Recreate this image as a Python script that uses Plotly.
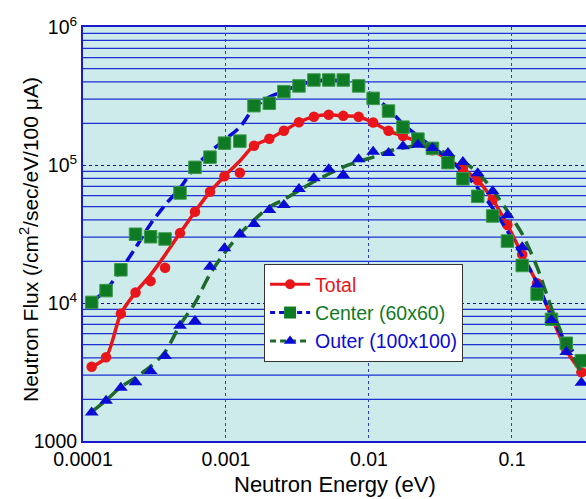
import plotly.graph_objects as go

# Neutron energy (eV) sample points
energy = [1.15e-4, 1.45e-4, 1.84e-4, 2.33e-4, 2.97e-4, 3.75e-4, 4.77e-4, 6.07e-4, 7.73e-4, 9.76e-4,
          1.25e-3, 1.57e-3, 2.01e-3, 2.54e-3, 3.24e-3, 4.12e-3, 5.23e-3, 6.61e-3, 8.47e-3, 1.07e-2,
          1.37e-2, 1.73e-2, 2.20e-2, 2.78e-2, 3.57e-2, 4.54e-2, 5.76e-2, 7.33e-2, 9.30e-2, 0.118,
          0.150, 0.189, 0.240, 0.306]

# measured points
total_pts = [3450, 4040, 8370, 11900, 14400, 18000, 32100, 45900, 64000, 82800,
             87900, 138000, 155000, 177000, 204000, 224000, 231000, 227000, 224000, 203000,
             177000, 162000, 147000, 128000, 106000, 93500, 77400, 56100, 36700, 22500,
             13900, 7960, 4560, 3150]
center_pts = [10100, 12300, 17400, 31500, 30200, 29100, 62700, 96200, 114000, 144000,
              149000, 269000, 280000, 340000, 374000, 413000, 413000, 413000, 374000, 304000,
              246000, 188000, 154000, 132000, 104000, 79400, 59300, 42700, 28100, 18700,
              11600, 7620, 5110, 3820]
outer_pts = [1610, 1960, 2430, 2660, 3210, 4130, 6850, 7410, 18300, 24900,
             31600, 37400, 47200, 51300, 67000, 80100, 93200, 84700, 110000, 125000,
             122000, 137000, 140000, 133000, 122000, 105000, 87200, 64500, 43200, 25300,
             13600, 7530, 4420, 2640]

# smooth fitted curves
total_fit = [3450, 4040, 8370, 11900, 16000, 22300, 32100, 45900, 64000, 82800,
             107000, 138000, 155000, 177000, 204000, 224000, 231000, 227000, 224000, 203000,
             177000, 162000, 147000, 128000, 110000, 93500, 77400, 56100, 36700, 22500,
             13900, 7960, 4560, 3150]
center_fit = [10200, 12400, 17400, 25100, 37400, 51300, 68100, 96700, 124000, 152000,
              188000, 259000, 311000, 344000, 380000, 406000, 413000, 406000, 374000, 316000,
              255000, 198000, 162000, 135000, 112000, 89000, 68100, 48800, 33200, 21900,
              14000, 8050, 5130, 3800]
outer_fit = [1630, 1970, 2460, 2880, 3470, 4420, 6930, 10000, 16200, 23000,
             31600, 39900, 49600, 56200, 65300, 75900, 86100, 96700, 106000, 114000,
             126000, 133000, 138000, 133000, 120000, 106000, 88300, 65900, 46400, 31600,
             18200, 9200, 5050, 3160]

series_names = ["Total", "Center (60x60)", "Outer (100x100)"]

RED = "#e8161b"
BLUE = "#0b0bd6"
GREEN = "#0f7a24"
DGREEN = "#1c6a2c"
FONT = "Liberation Sans, Arial, sans-serif"

fig = go.Figure()

# Total
fig.add_trace(go.Scatter(x=energy, y=total_fit, mode="lines", showlegend=False,
                         line=dict(color=RED, width=3.5, shape="spline", smoothing=0.8)))
fig.add_trace(go.Scatter(x=energy, y=total_pts, mode="markers", showlegend=False,
                         marker=dict(symbol="circle", size=10.5, color=RED)))
# Center
fig.add_trace(go.Scatter(x=energy, y=center_fit, mode="lines", showlegend=False,
                         line=dict(color=BLUE, width=3.5, dash="12px,6px", shape="spline", smoothing=0.8)))
fig.add_trace(go.Scatter(x=energy, y=center_pts, mode="markers", showlegend=False,
                         marker=dict(symbol="square", size=12.5, color=GREEN,
                                     line=dict(color="#3c9a4c", width=1))))
# Outer
fig.add_trace(go.Scatter(x=energy, y=outer_fit, mode="lines", showlegend=False,
                         line=dict(color=DGREEN, width=3.5, dash="14px,7px", shape="spline", smoothing=0.8)))
fig.add_trace(go.Scatter(x=energy, y=outer_pts, mode="markers", showlegend=False,
                         marker=dict(symbol="triangle-up", size=12, color=BLUE)))

# legend entries
fig.add_trace(go.Scatter(x=[None], y=[None], mode="lines+markers",
                         name=f"<span style='color:{RED}'>{series_names[0]}</span>",
                         line=dict(color=RED, width=3), marker=dict(symbol="circle", size=10, color=RED)))
fig.add_trace(go.Scatter(x=[None], y=[None], mode="lines+markers",
                         name=f"<span style='color:{GREEN}'>{series_names[1]}</span>",
                         line=dict(color=BLUE, width=3, dash="5px,4px"),
                         marker=dict(symbol="square", size=12, color=GREEN)))
fig.add_trace(go.Scatter(x=[None], y=[None], mode="lines+markers",
                         name=f"<span style='color:{BLUE}'>{series_names[2]}</span>",
                         line=dict(color=DGREEN, width=3, dash="6px,4px"),
                         marker=dict(symbol="triangle-up", size=11, color=BLUE)))

# minor horizontal grid lines (2..9 per decade)
shapes = []
for dec in [1e3, 1e4, 1e5]:
    for k in range(2, 10):
        shapes.append(dict(type="line", xref="paper", x0=0, x1=1, yref="y", y0=k * dec, y1=k * dec,
                           line=dict(color="#1c30d4", width=1.3), layer="below"))

fig.update_layout(
    width=586, height=499,
    margin=dict(l=83, r=0, t=27, b=58),
    paper_bgcolor="white",
    plot_bgcolor="#cdebea",
    font=dict(family=FONT, size=18, color="black"),
    shapes=shapes,
    showlegend=True,
    legend=dict(x=0.36, y=0.4275, xanchor="left", yanchor="top",
                bgcolor="white", bordercolor="#333333", borderwidth=1,
                font=dict(family=FONT, size=19.5), tracegroupgap=0, itemwidth=40),
    xaxis=dict(type="log", range=[-4, -0.482],
               tickvals=[1e-4, 1e-3, 1e-2, 1e-1], ticktext=["0.0001", "0.001", "0.01", "0.1"],
               showgrid=True, gridcolor="#2a3ad8", griddash="dot", gridwidth=1,
               showline=True, linecolor="#1a1acc", linewidth=2, mirror=True,
               ticks="", tickfont=dict(size=19.5), zeroline=False),
    yaxis=dict(type="log", range=[3, 6],
               tickvals=[1e3, 1e4, 1e5, 1e6],
               ticktext=["1000", "10<sup>4</sup>", "10<sup>5</sup>", "10<sup>6</sup>"],
               showgrid=True, gridcolor="#10109a", griddash="dot", gridwidth=1,
               showline=True, linecolor="#1a1acc", linewidth=2,
               ticks="", tickfont=dict(size=19.5), zeroline=False),
    annotations=[
        dict(text="Neutron Energy (eV)", xref="paper", yref="paper", x=0.5, y=-0.106,
             xanchor="center", yanchor="middle", showarrow=False, font=dict(size=22)),
        dict(text="Neutron Flux (/cm<sup>2</sup>/sec/eV/100 \u03bcA)", xref="paper", yref="paper",
             x=-0.107, y=0.486, xanchor="center", yanchor="middle", textangle=-90,
             showarrow=False, font=dict(size=21)),
    ],
)

fig.write_html("out.html", config={"displayModeBar": False},
               post_script="document.body.style.margin='0';document.body.style.overflow='hidden';")
